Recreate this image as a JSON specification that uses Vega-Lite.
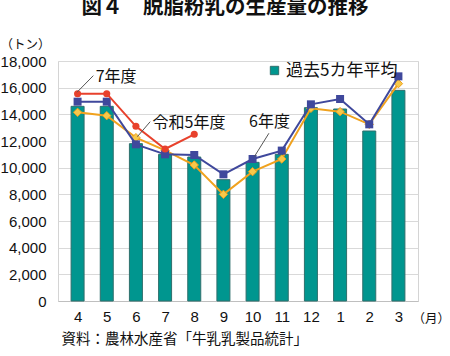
{
  "$schema": "https://vega.github.io/schema/vega-lite/v6.json",
  "width": 360,
  "height": 240,
  "autosize": {"type": "none"},
  "padding": {"left": 58, "top": 61, "right": 32, "bottom": 55},
  "background": "white",
  "title": {
    "text": "図４　脱脂粉乳の生産量の推移",
    "font": "Noto Sans CJK JP",
    "fontSize": 20.5,
    "fontWeight": "bold",
    "color": "#111111",
    "anchor": "middle",
    "frame": "group",
    "dx": -13,
    "offset": 20
  },
  "config": {
    "view": {"stroke": "#d4d4d4"},
    "axis": {"labelColor": "#111111", "titleColor": "#111111", "labelOverlap": false, "labelFlush": false},
    "axisX": {
      "labelFont": "Liberation Sans",
      "labelFontSize": 15,
      "labelPadding": 8,
      "ticks": false,
      "grid": false,
      "domain": true,
      "domainColor": "#bfbfbf",
      "titleFont": "Noto Sans CJK JP",
      "titleFontSize": 12.5,
      "titleFontWeight": "normal",
      "titleAlign": "left",
      "titleAnchor": "start",
      "titleBaseline": "middle",
      "titleX": 354,
      "titleY": 17
    },
    "axisY": {
      "labelFont": "Liberation Sans",
      "labelFontSize": 15,
      "labelPadding": 12,
      "ticks": false,
      "domain": false,
      "grid": true,
      "gridColor": "#d9d9d9",
      "titleFont": "Noto Sans CJK JP",
      "titleFontSize": 12.5,
      "titleFontWeight": "normal",
      "titleAngle": 0,
      "titleAlign": "left",
      "titleBaseline": "middle",
      "titleX": -58,
      "titleY": -17
    }
  },
  "datasets": {
    "main": [
      {"i": 1, "series": "過去5カ年平均", "value": 14600},
      {"i": 2, "series": "過去5カ年平均", "value": 14600},
      {"i": 3, "series": "過去5カ年平均", "value": 11800},
      {"i": 4, "series": "過去5カ年平均", "value": 11000},
      {"i": 5, "series": "過去5カ年平均", "value": 10800},
      {"i": 6, "series": "過去5カ年平均", "value": 9100},
      {"i": 7, "series": "過去5カ年平均", "value": 10400},
      {"i": 8, "series": "過去5カ年平均", "value": 11000},
      {"i": 9, "series": "過去5カ年平均", "value": 14500},
      {"i": 10, "series": "過去5カ年平均", "value": 14400},
      {"i": 11, "series": "過去5カ年平均", "value": 12750},
      {"i": 12, "series": "過去5カ年平均", "value": 15800},
      {"i": 1, "series": "令和5年度", "value": 14150},
      {"i": 2, "series": "令和5年度", "value": 13900},
      {"i": 3, "series": "令和5年度", "value": 12250},
      {"i": 4, "series": "令和5年度", "value": 11300},
      {"i": 5, "series": "令和5年度", "value": 10200},
      {"i": 6, "series": "令和5年度", "value": 8000},
      {"i": 7, "series": "令和5年度", "value": 9700},
      {"i": 8, "series": "令和5年度", "value": 10650},
      {"i": 9, "series": "令和5年度", "value": 14450},
      {"i": 10, "series": "令和5年度", "value": 14200},
      {"i": 11, "series": "令和5年度", "value": 13250},
      {"i": 12, "series": "令和5年度", "value": 16300},
      {"i": 1, "series": "6年度", "value": 14950},
      {"i": 2, "series": "6年度", "value": 14950},
      {"i": 3, "series": "6年度", "value": 11750},
      {"i": 4, "series": "6年度", "value": 11000},
      {"i": 5, "series": "6年度", "value": 10950},
      {"i": 6, "series": "6年度", "value": 9500},
      {"i": 7, "series": "6年度", "value": 10650},
      {"i": 8, "series": "6年度", "value": 11280},
      {"i": 9, "series": "6年度", "value": 14750},
      {"i": 10, "series": "6年度", "value": 15150},
      {"i": 11, "series": "6年度", "value": 13250},
      {"i": 12, "series": "6年度", "value": 16850},
      {"i": 1, "series": "7年度", "value": 15550},
      {"i": 2, "series": "7年度", "value": 15550},
      {"i": 3, "series": "7年度", "value": 13100},
      {"i": 4, "series": "7年度", "value": 11400},
      {"i": 5, "series": "7年度", "value": 12500}
    ],
    "one": [{"k": 1}]
  },
  "layer": [
    {
      "data": {"name": "main"},
      "transform": [{"filter": "datum.series === '過去5カ年平均'"}],
      "mark": {"type": "bar", "size": 13, "stroke": "#2f6f6c", "strokeWidth": 1},
      "encoding": {
        "x": {"field": "i", "type": "quantitative", "title": "（月）", "scale": {"domain": [0.5, 12.5], "nice": false, "zero": false},
          "axis": {"values": [1, 2, 3, 4, 5, 6, 7, 8, 9, 10, 11, 12], "labelExpr": "['4','5','6','7','8','9','10','11','12','1','2','3'][datum.value-1]", "labelOverlap": false}},
        "y": {"field": "value", "type": "quantitative", "title": "（トン）", "scale": {"domain": [0, 18000], "nice": false},
          "axis": {"values": [0, 2000, 4000, 6000, 8000, 10000, 12000, 14000, 16000, 18000], "format": ",.0f", "labelOverlap": false}},
        "color": {
          "field": "series",
          "type": "nominal",
          "scale": {"domain": ["過去5カ年平均"], "range": ["#00968F"]},
          "legend": {
            "orient": "none",
            "legendX": 208,
            "legendY": 1,
            "title": null,
            "symbolType": "square",
            "symbolSize": 70,
            "symbolStrokeColor": "#2f6f6c",
            "symbolStrokeWidth": 1,
            "labelFont": "Noto Sans CJK JP",
            "labelFontSize": 17,
            "labelColor": "#111111",
            "labelOffset": 3
          }
        }
      }
    },
    {
      "data": {"name": "main"},
      "transform": [{"filter": "datum.series === '令和5年度'"}],
      "mark": {
        "type": "line",
        "color": "#F0A21E",
        "strokeWidth": 2,
        "point": {"shape": "diamond", "filled": true, "fill": "#F7C84A", "stroke": "#EE9F1A", "strokeWidth": 1, "size": 70}
      },
      "encoding": {
        "x": {"field": "i", "type": "quantitative", "title": "（月）",
          "axis": {"values": [1, 2, 3, 4, 5, 6, 7, 8, 9, 10, 11, 12], "labelExpr": "['4','5','6','7','8','9','10','11','12','1','2','3'][datum.value-1]", "labelOverlap": false}},
        "y": {"field": "value", "type": "quantitative", "title": "（トン）",
          "axis": {"values": [0, 2000, 4000, 6000, 8000, 10000, 12000, 14000, 16000, 18000], "format": ",.0f", "labelOverlap": false}}
      }
    },
    {
      "data": {"name": "main"},
      "transform": [{"filter": "datum.series === '6年度'"}],
      "mark": {
        "type": "line",
        "color": "#3F489C",
        "strokeWidth": 2,
        "point": {"shape": "square", "filled": true, "fill": "#3F489C", "size": 64}
      },
      "encoding": {
        "x": {"field": "i", "type": "quantitative", "title": "（月）",
          "axis": {"values": [1, 2, 3, 4, 5, 6, 7, 8, 9, 10, 11, 12], "labelExpr": "['4','5','6','7','8','9','10','11','12','1','2','3'][datum.value-1]", "labelOverlap": false}},
        "y": {"field": "value", "type": "quantitative", "title": "（トン）",
          "axis": {"values": [0, 2000, 4000, 6000, 8000, 10000, 12000, 14000, 16000, 18000], "format": ",.0f", "labelOverlap": false}}
      }
    },
    {
      "data": {"name": "main"},
      "transform": [{"filter": "datum.series === '7年度'"}],
      "mark": {
        "type": "line",
        "color": "#E8412C",
        "strokeWidth": 2,
        "point": {"shape": "circle", "filled": true, "fill": "#E8412C", "size": 50}
      },
      "encoding": {
        "x": {"field": "i", "type": "quantitative", "title": "（月）",
          "axis": {"values": [1, 2, 3, 4, 5, 6, 7, 8, 9, 10, 11, 12], "labelExpr": "['4','5','6','7','8','9','10','11','12','1','2','3'][datum.value-1]", "labelOverlap": false}},
        "y": {"field": "value", "type": "quantitative", "title": "（トン）",
          "axis": {"values": [0, 2000, 4000, 6000, 8000, 10000, 12000, 14000, 16000, 18000], "format": ",.0f", "labelOverlap": false}}
      }
    },
    {
      "data": {"name": "one"},
      "mark": {"type": "rule", "color": "#555555", "strokeWidth": 1},
      "encoding": {
        "x": {"datum": 0.98, "type": "quantitative", "title": "（月）",
          "axis": {"values": [1, 2, 3, 4, 5, 6, 7, 8, 9, 10, 11, 12], "labelExpr": "['4','5','6','7','8','9','10','11','12','1','2','3'][datum.value-1]", "labelOverlap": false}},
        "y": {"datum": 15657, "type": "quantitative", "title": "（トン）",
          "axis": {"values": [0, 2000, 4000, 6000, 8000, 10000, 12000, 14000, 16000, 18000], "format": ",.0f", "labelOverlap": false}},
        "x2": {"datum": 1.54},
        "y2": {"datum": 16902}
      }
    },
    {
      "data": {"name": "one"},
      "mark": {"type": "rule", "color": "#555555", "strokeWidth": 1},
      "encoding": {
        "x": {"datum": 3.05, "type": "quantitative", "title": "（月）",
          "axis": {"values": [1, 2, 3, 4, 5, 6, 7, 8, 9, 10, 11, 12], "labelExpr": "['4','5','6','7','8','9','10','11','12','1','2','3'][datum.value-1]", "labelOverlap": false}},
        "y": {"datum": 12326, "type": "quantitative", "title": "（トン）",
          "axis": {"values": [0, 2000, 4000, 6000, 8000, 10000, 12000, 14000, 16000, 18000], "format": ",.0f", "labelOverlap": false}},
        "x2": {"datum": 3.49},
        "y2": {"datum": 13451}
      }
    },
    {
      "data": {"name": "one"},
      "mark": {"type": "rule", "color": "#555555", "strokeWidth": 1},
      "encoding": {
        "x": {"datum": 7.06, "type": "quantitative", "title": "（月）",
          "axis": {"values": [1, 2, 3, 4, 5, 6, 7, 8, 9, 10, 11, 12], "labelExpr": "['4','5','6','7','8','9','10','11','12','1','2','3'][datum.value-1]", "labelOverlap": false}},
        "y": {"datum": 10825, "type": "quantitative", "title": "（トン）",
          "axis": {"values": [0, 2000, 4000, 6000, 8000, 10000, 12000, 14000, 16000, 18000], "format": ",.0f", "labelOverlap": false}},
        "x2": {"datum": 7.56},
        "y2": {"datum": 12581}
      }
    },
    {
      "data": {"name": "one"},
      "mark": {"type": "text", "font": "Noto Sans CJK JP", "fontSize": 16, "color": "#111111", "align": "left", "baseline": "middle"},
      "encoding": {
        "x": {"datum": 1.62, "type": "quantitative", "title": "（月）",
          "axis": {"values": [1, 2, 3, 4, 5, 6, 7, 8, 9, 10, 11, 12], "labelExpr": "['4','5','6','7','8','9','10','11','12','1','2','3'][datum.value-1]", "labelOverlap": false}},
        "y": {"datum": 16767, "type": "quantitative", "title": "（トン）",
          "axis": {"values": [0, 2000, 4000, 6000, 8000, 10000, 12000, 14000, 16000, 18000], "format": ",.0f", "labelOverlap": false}},
        "text": {"value": "7年度"}
      }
    },
    {
      "data": {"name": "one"},
      "mark": {"type": "text", "font": "Noto Sans CJK JP", "fontSize": 16, "color": "#111111", "align": "left", "baseline": "middle"},
      "encoding": {
        "x": {"datum": 3.57, "type": "quantitative", "title": "（月）",
          "axis": {"values": [1, 2, 3, 4, 5, 6, 7, 8, 9, 10, 11, 12], "labelExpr": "['4','5','6','7','8','9','10','11','12','1','2','3'][datum.value-1]", "labelOverlap": false}},
        "y": {"datum": 13353, "type": "quantitative", "title": "（トン）",
          "axis": {"values": [0, 2000, 4000, 6000, 8000, 10000, 12000, 14000, 16000, 18000], "format": ",.0f", "labelOverlap": false}},
        "text": {"value": "令和5年度"}
      }
    },
    {
      "data": {"name": "one"},
      "mark": {"type": "text", "font": "Noto Sans CJK JP", "fontSize": 16, "color": "#111111", "align": "left", "baseline": "middle"},
      "encoding": {
        "x": {"datum": 6.88, "type": "quantitative", "title": "（月）",
          "axis": {"values": [1, 2, 3, 4, 5, 6, 7, 8, 9, 10, 11, 12], "labelExpr": "['4','5','6','7','8','9','10','11','12','1','2','3'][datum.value-1]", "labelOverlap": false}},
        "y": {"datum": 13451, "type": "quantitative", "title": "（トン）",
          "axis": {"values": [0, 2000, 4000, 6000, 8000, 10000, 12000, 14000, 16000, 18000], "format": ",.0f", "labelOverlap": false}},
        "text": {"value": "6年度"}
      }
    },
    {
      "data": {"name": "one"},
      "mark": {"type": "text", "font": "Noto Sans CJK JP", "fontSize": 14.5, "color": "#111111", "align": "left", "baseline": "middle"},
      "encoding": {
        "x": {"datum": 0.45, "type": "quantitative", "title": "（月）",
          "axis": {"values": [1, 2, 3, 4, 5, 6, 7, 8, 9, 10, 11, 12], "labelExpr": "['4','5','6','7','8','9','10','11','12','1','2','3'][datum.value-1]", "labelOverlap": false}},
        "y": {"datum": -2925, "type": "quantitative", "title": "（トン）",
          "axis": {"values": [0, 2000, 4000, 6000, 8000, 10000, 12000, 14000, 16000, 18000], "format": ",.0f", "labelOverlap": false}},
        "text": {"value": "資料：農林水産省「牛乳乳製品統計」"}
      }
    }
  ]
}
